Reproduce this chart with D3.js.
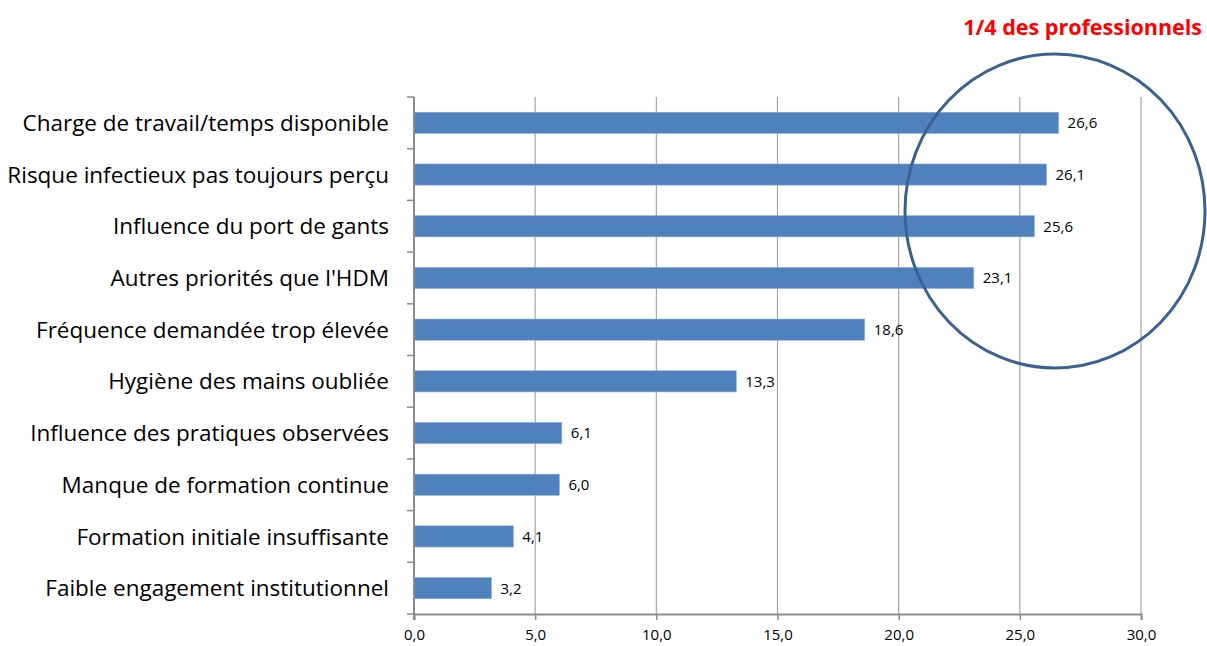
<!DOCTYPE html>
<html>
<head>
<meta charset="utf-8">
<script src="https://cdn.jsdelivr.net/npm/d3@7"></script>
<style>
  body { margin: 0; background: #fff; }
  svg { display: block; font-family: "Open Sans", "Noto Sans", sans-serif; }
</style>
</head>
<body>
<svg id="chart" width="1207" height="646"></svg>
<script>
const categories = [
  "Charge de travail/temps disponible",
  "Risque infectieux pas toujours perçu",
  "Influence du port de gants",
  "Autres priorités que l'HDM",
  "Fréquence demandée trop élevée",
  "Hygiène des mains oubliée",
  "Influence des pratiques observées",
  "Manque de formation continue",
  "Formation initiale insuffisante",
  "Faible engagement institutionnel"
];
const values = [26.6, 26.1, 25.6, 23.1, 18.6, 13.3, 6.1, 6.0, 4.1, 3.2];
const xTicks = [0, 5, 10, 15, 20, 25, 30];
const note = "1/4 des professionnels";

const svg = d3.select("#chart");
const plotLeft = 414, plotRight = 1141, plotTop = 97, plotBottom = 614;

const x = d3.scaleLinear().domain([0, 30]).range([plotLeft, plotRight]);
const y = d3.scaleBand()
  .domain(categories)
  .range([plotTop, plotBottom])
  .paddingInner(0.59)
  .paddingOuter(0.295);

const comma = d => d3.format(".1f")(d).replace(".", ",");

// grille verticale
svg.append("g")
  .selectAll("line")
  .data(xTicks.filter(d => d > 0))
  .enter()
  .append("line")
  .attr("x1", d => x(d))
  .attr("x2", d => x(d))
  .attr("y1", plotTop)
  .attr("y2", plotBottom)
  .attr("stroke", "#a6a6a6")
  .attr("stroke-width", 1.2);

// barres
svg.append("g")
  .selectAll("rect")
  .data(values)
  .enter()
  .append("rect")
  .attr("x", x(0))
  .attr("y", (d, i) => y(categories[i]))
  .attr("width", d => x(d) - x(0))
  .attr("height", y.bandwidth())
  .attr("fill", "#4f81bd")
  .attr("stroke", "#93b0d6")
  .attr("stroke-width", 0.6);

// étiquettes de valeurs
svg.append("g")
  .selectAll("text")
  .data(values)
  .enter()
  .append("text")
  .attr("x", d => x(d) + 9)
  .attr("y", (d, i) => y(categories[i]) + y.bandwidth() / 2)
  .attr("dy", "0.36em")
  .text(d => comma(d))
  .style("font-size", "15px")
  .style("fill", "#000");

// axe des catégories
svg.append("line")
  .attr("x1", plotLeft).attr("x2", plotLeft)
  .attr("y1", plotTop).attr("y2", plotBottom + 6)
  .attr("stroke", "#8c8c8c")
  .attr("stroke-width", 2);

svg.append("g")
  .selectAll("line")
  .data(d3.range(categories.length + 1))
  .enter()
  .append("line")
  .attr("x1", plotLeft - 7)
  .attr("x2", plotLeft)
  .attr("y1", i => plotTop + i * y.step())
  .attr("y2", i => plotTop + i * y.step())
  .attr("stroke", "#8c8c8c")
  .attr("stroke-width", 1.5);

svg.append("g")
  .selectAll("text")
  .data(categories)
  .enter()
  .append("text")
  .attr("x", 389)
  .attr("y", d => y(d) + y.bandwidth() / 2)
  .attr("dy", "0.36em")
  .attr("text-anchor", "end")
  .text(d => d)
  .style("font-size", "22.5px")
  .style("fill", "#000");

// axe des valeurs
const xAxis = svg.append("g")
  .attr("transform", `translate(0, ${plotBottom})`)
  .call(d3.axisBottom(x).tickValues(xTicks).tickFormat(comma).tickSize(6).tickPadding(9));

xAxis.select(".domain").attr("stroke", "#8c8c8c").attr("stroke-width", 2);
xAxis.selectAll(".tick line").attr("stroke", "#8c8c8c").attr("stroke-width", 1.5);
xAxis.selectAll(".tick text")
  .style("font-size", "15px")
  .style("font-family", "'Open Sans', sans-serif")
  .attr("fill", "#000");

// ellipse de mise en évidence
svg.append("ellipse")
  .attr("cx", 1055)
  .attr("cy", 211)
  .attr("rx", 150)
  .attr("ry", 157)
  .attr("fill", "none")
  .attr("stroke", "#3a6191")
  .attr("stroke-width", 3);

svg.append("text")
  .attr("x", 1202)
  .attr("y", 35)
  .attr("text-anchor", "end")
  .text(note)
  .style("font-size", "21.5px")
  .style("font-weight", "bold")
  .style("fill", "#ff0000");
</script>
</body>
</html>
